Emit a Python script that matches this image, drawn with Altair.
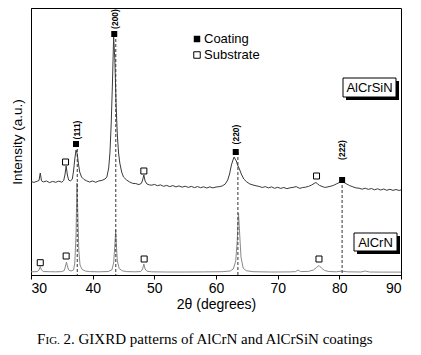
import altair as alt
import pandas as pd

# ---- AlCrSiN pattern (upper, noisy) : 2theta, intensity (a.u.)
sin_x = [30.0, 30.5, 31.0, 31.3, 31.5, 31.7, 32.0, 32.5, 33.0, 33.5, 34.0, 34.5, 35.0, 35.3, 35.5,
         35.7, 35.9, 36.1, 36.4, 36.7, 36.9, 37.1, 37.3, 37.5, 37.7, 37.9, 38.2, 38.6, 39.0, 39.5,
         40.0, 40.5, 41.0, 41.5, 42.0, 42.3, 42.6, 42.8, 43.0, 43.2, 43.4, 43.6, 43.8, 44.0, 44.2,
         44.4, 44.7, 45.0, 45.5, 46.0, 46.5, 47.0, 47.5, 47.9, 48.1, 48.3, 48.5, 48.8, 49.2, 49.6,
         50.0, 50.5, 51.0, 51.5, 52.0, 52.5, 53.0, 53.5, 54.0, 54.5, 55.0, 55.5, 56.0, 56.5, 57.0,
         57.5, 58.0, 58.5, 59.0, 59.5, 60.0, 60.5, 61.0, 61.5, 61.9, 62.2, 62.5, 62.8, 62.95, 63.1,
         63.3, 63.5, 63.8, 64.1, 64.5, 65.0, 65.5, 66.0, 66.5, 67.0, 67.5, 68.0, 68.5, 69.0, 69.5,
         70.0, 70.5, 71.0, 71.5, 72.0, 72.5, 73.0, 73.3, 73.6, 74.0, 74.5, 75.0, 75.5, 75.9, 76.2,
         76.5, 76.8, 77.2, 77.6, 78.0, 78.5, 79.0, 79.5, 80.0, 80.4, 80.8, 81.2, 81.7, 82.2, 82.7,
         83.2, 83.7, 84.2, 84.7, 85.2, 85.7, 86.2, 86.7, 87.2, 87.7, 88.2, 88.7, 89.2, 89.7, 90.0]
sin_y = [93.5, 92.6, 93.8, 94.5, 102, 94.2, 93.1, 94.0, 92.4, 93.6, 92.7, 93.9, 92.8, 94.5, 100,
         109, 100, 95, 94, 96, 104, 116, 125, 121, 111, 103, 98, 95.5, 94.2, 93.0,
         94.0, 92.7, 94.1, 94.6, 96, 98, 107, 122, 150, 190, 238, 215, 170, 140, 122,
         112, 103, 98, 95, 93, 91.6, 91.4, 90.4, 91.7, 95, 100, 94, 91, 90.1, 89.8,
         90.6, 89.3, 90.1, 88.7, 89.6, 88.4, 89.4, 88.1, 89.1, 87.8, 88.8, 87.6, 88.6, 87.4, 88.4,
         87.3, 88.2, 87.0, 88.1, 87.1, 88.0, 88.3, 89.0, 91, 95, 101, 110, 116, 118, 116,
         114, 110, 106, 101, 96, 93, 91, 90, 89.2, 88.6, 87.5, 88.4, 87.1, 88.1, 86.7,
         87.7, 86.6, 87.5, 86.3, 87.2, 87.6, 88.4, 87.4, 86.6, 87.4, 87.8, 88.6, 90.0, 91.5, 92.5,
         91, 89.5, 88.6, 87.6, 87.9, 88.6, 89.5, 91, 92.5, 94, 92.4, 91, 89.3, 88.2, 87.1,
         86.8, 85.8, 86.8, 85.6, 86.5, 85.2, 86.2, 85.0, 86.0, 84.7, 85.7, 84.6, 85.5, 84.5, 85.1]

# ---- AlCrN pattern (lower, smooth)
crn_x = [30.0, 31.0, 31.3, 31.5, 31.7, 32.0, 33.0, 34.0, 35.0, 35.4, 35.6, 35.75, 35.9, 36.1, 36.5,
         36.9, 37.1, 37.3, 37.45, 37.6, 37.75, 37.95, 38.3, 38.8, 39.5, 41.0, 42.5, 43.1, 43.4, 43.6,
         43.73, 43.85, 44.0, 44.3, 44.8, 45.5, 47.0, 47.8, 48.1, 48.3, 48.5, 48.8, 49.5, 52.0, 55.0,
         58.0, 61.0, 62.3, 62.8, 63.2, 63.45, 63.65, 63.85, 64.05, 64.4, 64.9, 66.0, 69.0, 72.0, 72.9,
         73.3, 73.7, 75.0, 75.8, 76.3, 76.7, 77.1, 77.6, 78.3, 79.5, 80.4, 81.3, 83.5, 84.2, 84.9,
         87.0, 90.0]
crn_y = [3.2, 3.4, 5, 8.5, 5, 3.5, 3.3, 3.2, 3.4, 4.5, 9, 13, 9, 5, 4,
         5, 12, 40, 92, 60, 25, 10, 5.5, 4, 3.4, 3.2, 3.5, 5, 12, 30,
         45, 30, 14, 6.5, 4.2, 3.4, 3.2, 3.5, 6, 11, 6, 3.8, 3.2, 3.0, 3.0,
         3.1, 3.3, 4, 6, 14, 35, 62, 40, 18, 7, 4.3, 3.3, 3.0, 3.1, 3.4,
         5, 3.4, 3.6, 5, 7.5, 9.5, 7, 4.5, 3.5, 3.2, 3.9, 3.2, 3.0, 4, 3.0,
         2.9, 2.9]

# ---- peak markers
coat_x = [37.3, 43.5, 63.2, 80.45]
coat_y = [131, 241, 123, 95]
sub_x = [31.5, 35.7, 48.35, 76.7, 35.6, 48.3, 76.3]
sub_y = [12.3, 19, 16, 16, 113, 104, 99]

hkl_labels = ["(111)", "(200)", "(220)", "(222)"]
hkl_x = [37.45, 43.55, 63.2, 80.45]
hkl_y = [145, 256, 140.5, 125]

dash_x = [37.5, 43.75, 63.55, 80.45]
dash_top = [131, 241, 123, 95]

legend_labels = ["Coating", "Substrate"]
sample_labels = ["AlCrSiN", "AlCrN"]
caption_parts = ["F", "IG.", "2. GIXRD patterns of AlCrN and AlCrSiN coatings"]

FONT = "Liberation Sans"
SERIF = "Liberation Serif"

xs = alt.Scale(domain=[30, 90], nice=False, zero=False)
ys = alt.Scale(domain=[0, 267], nice=False, zero=False)

sin_df = pd.DataFrame({"t": sin_x, "i": sin_y})
crn_df = pd.DataFrame({"t": crn_x, "i": crn_y})

x_enc = alt.X("t:Q", scale=xs, title="2θ (degrees)",
              axis=alt.Axis(values=list(range(30, 91, 5)),
                            labelExpr="datum.value % 10 == 0 ? datum.label : ''",
                            tickSize=4, labelPadding=2, titlePadding=2,
                            labelFont=FONT, labelFontSize=14, titleFont=FONT,
                            titleFontSize=14, titleFontWeight="normal",
                            labelColor="black", titleColor="black",
                            domainColor="black", tickColor="black", grid=False))
y_enc = alt.Y("i:Q", scale=ys, title="Intensity (a.u.)",
              axis=alt.Axis(labels=False, ticks=False, grid=False, titlePadding=7,
                            titleFont=FONT, titleFontSize=13.5, titleFontWeight="normal",
                            titleColor="black", domainColor="black"))

line_crn = alt.Chart(crn_df).mark_line(color="#8a8a8a", strokeWidth=1).encode(x=x_enc, y=y_enc, order="t:Q")
line_sin = alt.Chart(sin_df).mark_line(color="#3a3a3a", strokeWidth=1).encode(
    x=alt.X("t:Q", scale=xs), y=alt.Y("i:Q", scale=ys), order="t:Q")

dash_df = pd.DataFrame({"t": dash_x, "i": dash_top, "z": [0] * len(dash_x)})
dashes = alt.Chart(dash_df).mark_rule(color="#333333", strokeWidth=1, strokeDash=[3, 2]).encode(
    x=alt.X("t:Q", scale=xs), y=alt.Y("i:Q", scale=ys), y2="z:Q")

coat_df = pd.DataFrame({"t": coat_x, "i": coat_y})
coat_pts = alt.Chart(coat_df).mark_point(shape="square", filled=True, color="black", size=36, opacity=1).encode(
    x=alt.X("t:Q", scale=xs), y=alt.Y("i:Q", scale=ys))

sub_df = pd.DataFrame({"t": sub_x, "i": sub_y})
sub_pts = alt.Chart(sub_df).mark_point(shape="square", filled=True, fill="white", stroke="black",
                                       strokeWidth=1, size=36, opacity=1).encode(
    x=alt.X("t:Q", scale=xs), y=alt.Y("i:Q", scale=ys))

hkl_df = pd.DataFrame({"t": hkl_x, "i": hkl_y, "lab": hkl_labels})
hkl_txt = alt.Chart(hkl_df).mark_text(angle=270, font=FONT, fontSize=8.5, fontWeight="bold",
                                      align="center", baseline="middle", color="black").encode(
    x=alt.X("t:Q", scale=xs), y=alt.Y("i:Q", scale=ys), text="lab:N")

# legend (annotation)
leg_df = pd.DataFrame({"lab": legend_labels})
leg_sq1 = alt.Chart(leg_df).transform_filter("datum.lab == 'Coating'").mark_point(
    shape="square", filled=True, color="black", size=42, opacity=1).encode(x=alt.value(166), y=alt.value(31))
leg_sq2 = alt.Chart(leg_df).transform_filter("datum.lab == 'Substrate'").mark_point(
    shape="square", filled=True, fill="white", stroke="black", strokeWidth=1, size=42, opacity=1).encode(
    x=alt.value(166), y=alt.value(47))
leg_t1 = alt.Chart(leg_df).transform_filter("datum.lab == 'Coating'").mark_text(
    font=FONT, fontSize=13, align="left", baseline="middle", color="black").encode(
    x=alt.value(173), y=alt.value(31), text="lab:N")
leg_t2 = alt.Chart(leg_df).transform_filter("datum.lab == 'Substrate'").mark_text(
    font=FONT, fontSize=13, align="left", baseline="middle", color="black").encode(
    x=alt.value(173), y=alt.value(47), text="lab:N")

# sample label boxes with shadow
samp_df = pd.DataFrame({"lab": sample_labels})
def box(label, x0, x1, y0, y1):
    d = alt.Chart(samp_df).transform_filter(f"datum.lab == '{label}'")
    shadow = d.mark_rect(color="black").encode(x=alt.value(x0 + 3), x2=alt.value(x1 + 3),
                                               y=alt.value(y0 + 3), y2=alt.value(y1 + 3))
    frame = d.mark_rect(fill="white", stroke="black", strokeWidth=1).encode(
        x=alt.value(x0), x2=alt.value(x1), y=alt.value(y0), y2=alt.value(y1))
    txt = d.mark_text(font=FONT, fontSize=13, align="center", baseline="middle", color="black").encode(
        x=alt.value((x0 + x1) / 2), y=alt.value((y0 + y1) / 2 + 0.5), text="lab:N")
    return shadow + frame + txt

box1 = box("AlCrSiN", 312, 365, 70, 89)
box2 = box("AlCrN", 323, 366, 225, 243)

# caption
cap_df = pd.DataFrame({"part": caption_parts})
cap1 = alt.Chart(cap_df).transform_filter("datum.part == 'F'").mark_text(
    font=SERIF, fontSize=15, align="left", baseline="middle", color="black").encode(
    x=alt.value(6), y=alt.value(331), text="part:N")
cap2 = alt.Chart(cap_df).transform_filter("datum.part == 'IG.'").mark_text(
    font=SERIF, fontSize=11, align="left", baseline="middle", color="black", dy=1.5).encode(
    x=alt.value(14.5), y=alt.value(331), text="part:N")
cap3 = alt.Chart(cap_df).transform_filter("length(datum.part) > 5").mark_text(
    font=SERIF, fontSize=15, align="left", baseline="middle", color="black").encode(
    x=alt.value(32.5), y=alt.value(331), text="part:N")

chart = alt.layer(
    line_crn, line_sin, dashes, coat_pts, sub_pts, hkl_txt,
    leg_sq1, leg_sq2, leg_t1, leg_t2, box1, box2, cap1, cap2, cap3
).properties(
    width=370, height=267, autosize="none",
    padding={"left": 31, "top": 8, "right": 20, "bottom": 80},
    background="white"
).configure_view(stroke="black", strokeWidth=1)

chart.save("out.html", embed_options={"renderer": "svg", "actions": False})
